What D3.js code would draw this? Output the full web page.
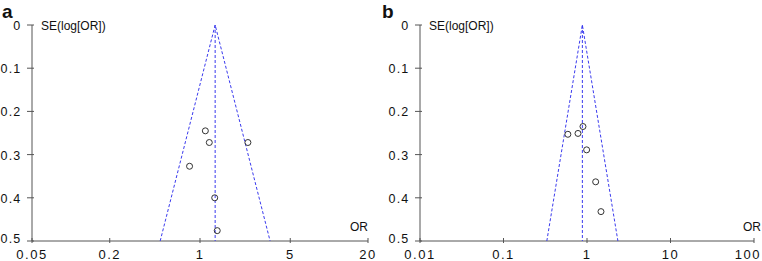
<!DOCTYPE html>
<html>
<head>
<meta charset="utf-8">
<script src="https://d3js.org/d3.v7.min.js"></script>
<style>
  body { margin: 0; background: #fff; }
  text { font-family: "Liberation Sans", Arial, sans-serif; fill: #111; }
</style>
</head>
<body>
<svg id="chart" width="762" height="261"></svg>
<script>
// panel a
const aOR = [1.10, 1.18, 2.35, 0.83, 1.30, 1.36];
const aSE = [0.245, 0.272, 0.272, 0.327, 0.400, 0.476];
const aPooled = 1.31;
const aTicks = [0.05, 0.2, 1, 5, 20];
// panel b
const bOR = [0.895, 0.59, 0.78, 0.99, 1.27, 1.47];
const bSE = [0.235, 0.253, 0.251, 0.289, 0.363, 0.432];
const bPooled = 0.88;
const bTicks = [0.01, 0.1, 1, 10, 100];
const seTicks = [0, 0.1, 0.2, 0.3, 0.4, 0.5];

const svg = d3.select('#chart');

function panel(opts) {
  const g = svg.append('g');
  const x = d3.scaleLog().domain(opts.domain).range([opts.x0, opts.x1]);
  const y = d3.scaleLinear().domain([0, 0.5]).range([25, 241]);
  const axisCol = '#555';

  // panel letter
  g.append('text').attr('x', opts.lx).attr('y', 18)
    .style('font-size', '19px').style('font-weight', 'bold').text(opts.letter);

  // y axis
  g.append('line').attr('x1', opts.x0).attr('x2', opts.x0)
    .attr('y1', y(0)).attr('y2', y(0.5)).attr('stroke', axisCol);
  seTicks.forEach(t => {
    g.append('line').attr('x1', opts.x0 - 5).attr('x2', opts.x0 + 2)
      .attr('y1', y(t)).attr('y2', y(t)).attr('stroke', axisCol);
    g.append('text').attr('x', opts.x0 - 10.5).attr('y', y(t) + (t === 0.5 ? 2 : 5))
      .attr('text-anchor', 'end').style('font-size', '12.5px')
      .style('letter-spacing', '1.2px')
      .text(t === 0 ? '0' : t.toFixed(1));
  });
  g.append('text').attr('x', opts.x0 + 9).attr('y', y(0) + 5)
    .style('font-size', '12px').text('SE(log[OR])');

  // x axis
  g.append('line').attr('x1', opts.x0).attr('x2', opts.x1)
    .attr('y1', y(0.5)).attr('y2', y(0.5)).attr('stroke', axisCol);
  opts.ticks.forEach(t => {
    g.append('line').attr('x1', x(t)).attr('x2', x(t))
      .attr('y1', y(0.5) - 3).attr('y2', y(0.5) + 2).attr('stroke', axisCol);
    const lab = g.append('text').attr('x', x(t)).attr('y', 259)
      .attr('text-anchor', 'middle').style('font-size', '13px')
      .style('letter-spacing', '1.5px').text(t);
    // keep the last label inside the picture
    const bb = lab.node().getBBox();
    if (bb.x + bb.width > 761) lab.attr('x', x(t) - (bb.x + bb.width - 761));
  });
  g.append('text').attr('x', opts.orx).attr('y', 231)
    .attr('text-anchor', 'end').style('font-size', '12px').text('OR');

  // funnel
  const p = opts.pooled;
  const lo = p * Math.exp(-1.96 * 0.5), hi = p * Math.exp(1.96 * 0.5);
  const dash = { stroke: '#3a3aee', 'stroke-width': 1, 'stroke-dasharray': '3,2', fill: 'none' };
  const funnel = [[lo, 0.5], [p, 0], [hi, 0.5]];
  const path = g.append('path')
    .attr('d', d3.line().x(d => x(d[0])).y(d => y(d[1]))(funnel));
  const mid = g.append('line').attr('x1', x(p)).attr('x2', x(p))
    .attr('y1', y(0)).attr('y2', y(0.5));
  Object.entries(dash).forEach(([k, v]) => { path.attr(k, v); mid.attr(k, v); });

  // studies
  g.selectAll('circle.s').data(opts.or.map((o, i) => [o, opts.se[i]]))
    .enter().append('circle')
    .attr('cx', d => x(d[0])).attr('cy', d => y(d[1])).attr('r', 3)
    .attr('fill', 'none').attr('stroke', '#333').attr('stroke-width', 1);
}

panel({ letter: 'a', lx: 2, x0: 32, x1: 368, orx: 368, domain: [0.05, 20],
        ticks: aTicks, pooled: aPooled, or: aOR, se: aSE });
panel({ letter: 'b', lx: 382, x0: 420, x1: 754, orx: 761, domain: [0.01, 100],
        ticks: bTicks, pooled: bPooled, or: bOR, se: bSE });
</script>
</body>
</html>
